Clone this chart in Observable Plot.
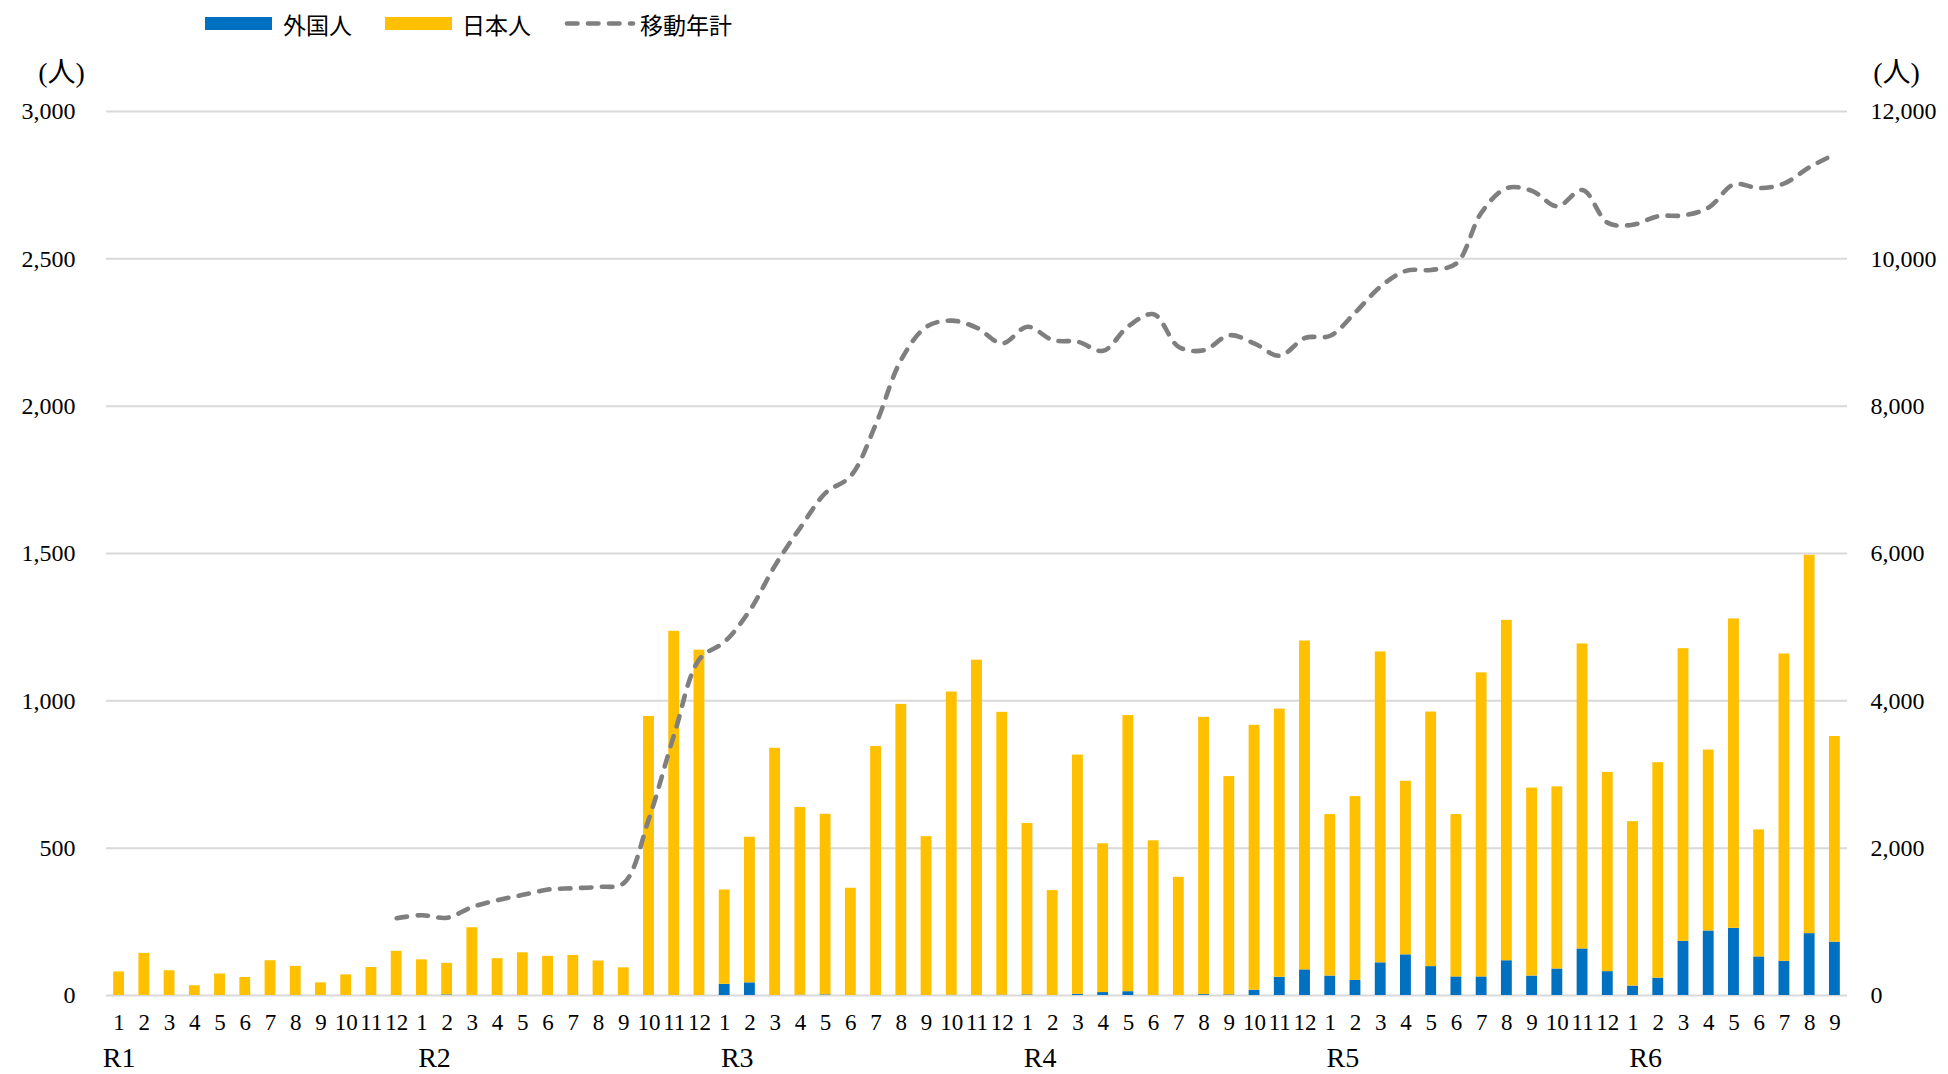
<!DOCTYPE html>
<html><head><meta charset="utf-8">
<script src="https://cdn.jsdelivr.net/npm/d3@7"></script>
<script src="https://cdn.jsdelivr.net/npm/@observablehq/plot@0.6"></script>
<style>
body{margin:0;background:#fff;font-family:"Liberation Serif","Noto Sans CJK JP",serif;}
#legend{position:relative;height:44px;width:1948px;}
.sw{position:absolute;top:17px;height:13px;width:67px;}
.lt{position:absolute;top:9px;font-size:23px;line-height:30px;font-family:"Noto Sans CJK JP",sans-serif;color:#000;white-space:nowrap;}
</style></head>
<body>
<div id="legend">
  <div class="sw" style="left:205px;background:#0070C0"></div>
  <div class="lt" style="left:283px">外国人</div>
  <div class="sw" style="left:385px;background:#FFC000"></div>
  <div class="lt" style="left:462px">日本人</div>
  <svg style="position:absolute;left:563px;top:16px" width="74" height="15"><line x1="4" y1="7.5" x2="70" y2="7.5" stroke="#7f7f7f" stroke-width="4.6" stroke-dasharray="10.5,10.5" stroke-linecap="round"/></svg>
  <div class="lt" style="left:640px">移動年計</div>
</div>
<div id="chart"></div>
<script>
const monthLabels = ["1","2","3","4","5","6","7","8","9","10","11","12",
  "1","2","3","4","5","6","7","8","9","10","11","12",
  "1","2","3","4","5","6","7","8","9","10","11","12",
  "1","2","3","4","5","6","7","8","9","10","11","12",
  "1","2","3","4","5","6","7","8","9","10","11","12",
  "1","2","3","4","5","6","7","8","9"];
const eras = ["R1","R2","R3","R4","R5","R6"];
const eraStart = [0,12,24,36,48,60];
const seriesNames = ["外国人","日本人","移動年計"];
const foreign = [
  0,0,0,0,0,0,0,0,0,0,0,0,
  0,2,0,0,0,0,0,0,0,0,0,0,
  38,43,0,1,2,0,0,0,0,1,0,1,
  2,0,4,10,13,0,0,3,2,18,62,87,
  66,51,111,138,98,63,63,118,66,90,158,81,
  32,59,184,219,228,131,116,210,181];
const japanese = [
  80,143,84,33,73,61,118,99,43,70,95,150,
  121,107,230,125,145,133,136,117,94,947,1236,1172,
  320,494,839,637,613,364,845,988,539,1029,1138,960,
  582,356,812,505,937,525,401,941,741,899,910,1116,
  548,624,1055,589,864,551,1032,1155,638,618,1035,676,
  558,731,993,614,1050,431,1043,1284,698];
const movingTotal = [
  null,null,null,null,null,null,null,null,null,null,null,1049,
  1090,1056,1202,1294,1366,1438,1456,1474,1525,2402,3543,4565,
  4802,5230,5839,6352,6822,7053,7762,8633,9078,9161,9063,8852,
  9078,8897,8874,8751,9086,9247,8803,8759,8963,8850,8684,8926,
  8956,9275,9625,9837,9849,9938,10632,10961,10922,10713,10934,10488,
  10464,10579,10590,10696,11012,10960,11024,11245,11420];
const leftTicks = [0,500,1000,1500,2000,2500,3000];
const unitLabel = "(人)";

const idx = d3.range(monthLabels.length);
const rows = [];
idx.forEach(i => {
  rows.push({i, series: seriesNames[0], value: foreign[i]});
  rows.push({i, series: seriesNames[1], value: japanese[i]});
});
const lineRows = idx.filter(i => movingTotal[i] != null).map(i => ({i, v: movingTotal[i]}));
const eraRows = eras.map((e, k) => ({i: eraStart[k], label: e}));
const fmt = d3.format(",");

const chart = Plot.plot({
  width: 1948, height: 1030,
  marginTop: 67, marginBottom: 79, marginLeft: 106, marginRight: 101,
  style: {fontFamily: '"Liberation Serif","Noto Sans CJK JP",serif', fontSize: "24px", color: "#000", background: "#fff"},
  x: {type: "band", domain: idx, paddingInner: 0.57, paddingOuter: 0.285, round: false},
  y: {domain: [0, 3000]},
  color: {domain: seriesNames.slice(0, 2), range: ["#0070C0", "#FFC000"]},
  marks: [
    Plot.ruleY(leftTicks, {stroke: "#d9d9d9", strokeWidth: 2}),
    Plot.barY(rows, {x: "i", y: "value", fill: "series"}),
    Plot.line(lineRows, {x: "i", y: d => d.v / 4, stroke: "#7f7f7f", strokeWidth: 4.6, strokeDasharray: "10.5,10.5", strokeLinecap: "round", curve: "catmull-rom"}),
    Plot.axisX({tickSize: 0, tickPadding: 18, tickFormat: i => monthLabels[i], label: null, fontSize: 23}),
    Plot.axisY({anchor: "left", ticks: leftTicks, tickSize: 0, tickPadding: 31, tickFormat: fmt, label: null, fontSize: 24}),
    Plot.axisY({anchor: "right", ticks: leftTicks, tickSize: 0, tickPadding: 23, tickFormat: d => fmt(d * 4), label: null, fontSize: 24}),
    Plot.text(eraRows.slice(0, 1), {x: "i", text: "label", frameAnchor: "bottom", dy: 71, fontSize: 28}),
    Plot.text(eraRows.slice(1), {x: "i", text: "label", frameAnchor: "bottom", dy: 71, dx: 12.6, fontSize: 28}),
    Plot.text([unitLabel], {text: d => d, frameAnchor: "top-left", textAnchor: "middle", lineAnchor: "middle", dx: -45, dy: -38, fontSize: 28}),
    Plot.text([unitLabel], {text: d => d, frameAnchor: "top-right", textAnchor: "middle", lineAnchor: "middle", dx: 49, dy: -38, fontSize: 28})
  ]
});
document.getElementById("chart").append(chart);
</script>
</body></html>
